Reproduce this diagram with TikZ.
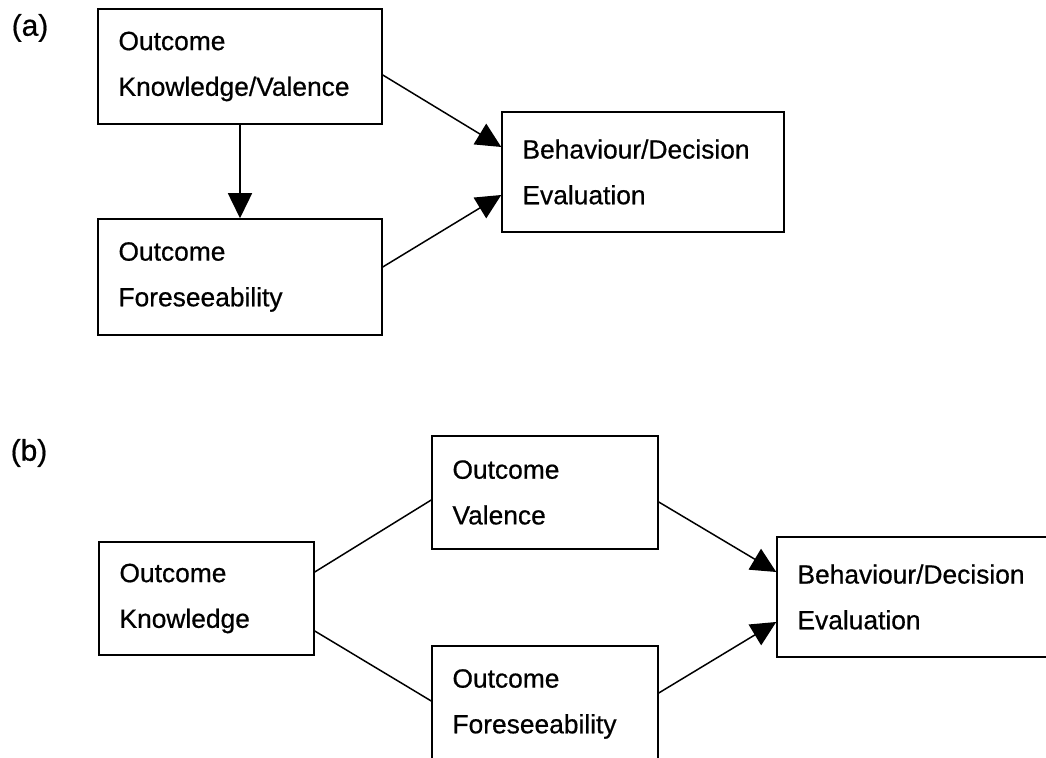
\documentclass[tikz,border=0pt]{standalone}
\usepackage{fontspec}
\setmainfont{Liberation Sans}
\newfontfamily\boxfont{Liberation Sans}[FakeBold=0.6]
\usetikzlibrary{arrows.meta}
\begin{document}
\begin{tikzpicture}[
   box/.style={draw, line width=0.85pt, inner xsep=0.41cm, align=left, font=\boxfont\fontsize{15}{26}\selectfont},
   ln/.style={line width=0.85pt},
   arr/.style={ln, -{Triangle[length=0.5cm, width=0.48cm]}},
   lbl/.style={inner sep=0pt, font=\boxfont\fontsize{17}{20}\selectfont}]
   \useasboundingbox (0,0) rectangle (20.92,15.16);
   \clip (0,0) rectangle (20.92,15.16);
   % (a)
   \node[lbl] (l0) at (0.60, 14.60) {(a)};
   \node[box, text width=4.86cm, minimum height=2.30cm] (v0) at (4.80, 13.83) {Outcome\\Knowledge/Valence};
   \node[box, text width=4.86cm, minimum height=2.32cm] (v1) at (4.80, 9.62) {Outcome\\Foreseeability};
   \node[box, text width=4.82cm, minimum height=2.40cm] (v2) at (12.86, 11.72) {Behaviour/Decision\\Evaluation};
   \draw[arr] (v0) -- (v1);
   \draw[arr] ([yshift=-0.17cm]v0.east) -- ([yshift=0.5cm]v2.west);
   \draw[arr] ([yshift=0.2cm]v1.east) -- ([yshift=-0.46cm]v2.west);
   % (b)
   \node[lbl] (l1) at (0.58, 6.10) {(b)};
   \node[box, text width=3.48cm, minimum height=2.26cm] (w0) at (4.13, 3.19) {Outcome\\Knowledge};
   \node[box, text width=3.70cm, minimum height=2.26cm] (w1) at (10.90, 5.31) {Outcome\\Valence};
   \node[box, text width=3.70cm, minimum height=2.32cm] (w2) at (10.90, 1.08) {Outcome\\Foreseeability};
   \node[box, text width=4.82cm, minimum height=2.40cm] (w3) at (18.36, 3.22) {Behaviour/Decision\\Evaluation};
   \draw[ln] ([yshift=0.53cm]w0.east) -- ([yshift=-0.15cm]w1.west);
   \draw[ln] ([yshift=-0.65cm]w0.east) -- ([yshift=0.06cm]w2.west);
   \draw[arr] ([yshift=-0.19cm]w1.east) -- ([yshift=0.5cm]w3.west);
   \draw[arr] ([yshift=0.22cm]w2.east) -- ([yshift=-0.5cm]w3.west);
\end{tikzpicture}
\end{document}
